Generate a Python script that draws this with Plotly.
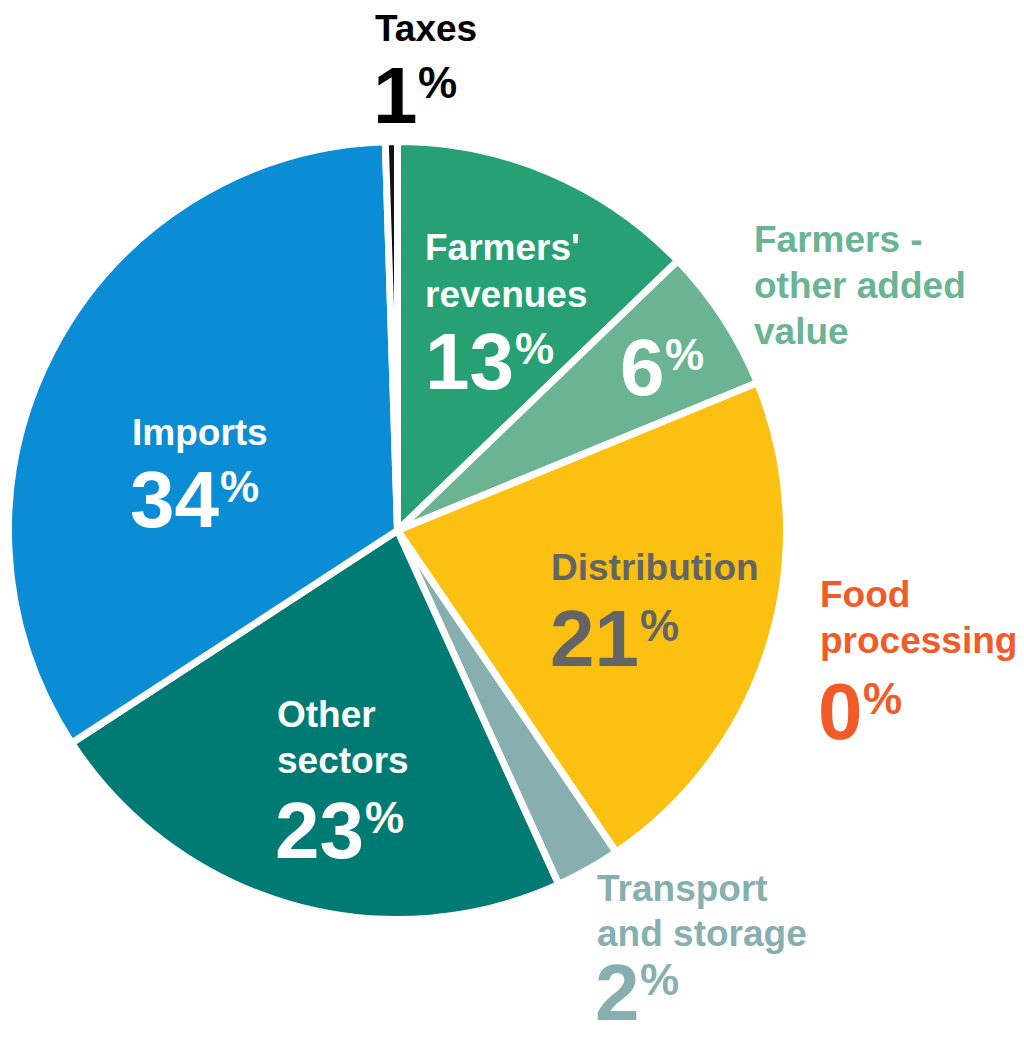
import plotly.graph_objects as go

# page body has an 8px margin; positions below are in screenshot pixels
OFF = 8
W, H = 1024 - OFF, 1040 - OFF

# ---- data ----
categories = ["Farmers' revenues", "Farmers - other added value", "Distribution",
              "Food processing", "Transport and storage", "Other sectors", "Imports", "Taxes"]
shares = [12.8, 6.0, 21.7, 0.0, 2.7, 22.6, 33.7, 0.5]
pct_labels = ["13", "6", "21", "0", "2", "23", "34", "1"]
name_lines = [["Farmers'", "revenues"], ["Farmers -", "other added", "value"], ["Distribution"],
              ["Food", "processing"], ["Transport", "and storage"], ["Other", "sectors"],
              ["Imports"], ["Taxes"]]

# ---- styles ----
slice_colors = ["#27A174", "#6BB493", "#FBC012", "#F15A29", "#88AFAF", "#007B74", "#0A8DD5", "#111111"]
name_colors = ["#FFFFFF", "#6BB493", "#636466", "#F15A29", "#88AFAF", "#FFFFFF", "#FFFFFF", "#000000"]
num_colors = ["#FFFFFF", "#FFFFFF", "#636466", "#F15A29", "#88AFAF", "#FFFFFF", "#FFFFFF", "#000000"]
FONT = "Liberation Sans, Arial, sans-serif"

# label layout (screenshot pixel positions): left x, name line centres, number centre
label_pos = [
    dict(x=423, lines=[248, 294], nx=423, ny=362),
    dict(x=752, lines=[240, 285, 331], nx=618, ny=368),
    dict(x=549, lines=[567], nx=548, ny=638),
    dict(x=818, lines=[594, 640], nx=816, ny=711),
    dict(x=595, lines=[888, 933], nx=593, ny=992),
    dict(x=275, lines=[714, 760], nx=273, ny=830),
    dict(x=130, lines=[432], nx=128, ny=500),
    dict(x=373, lines=[28], nx=371, ny=95),
]
NAME_SIZE = 37
NUM_SIZE = 80
PCT_SIZE = 44

cx, cy, r = 397.5, 530.5, 389

fig = go.Figure(go.Pie(
    labels=categories, values=shares, sort=False, direction="clockwise", rotation=0,
    marker=dict(colors=slice_colors, line=dict(color="white", width=7)),
    textinfo="none", hoverinfo="label+percent", showlegend=False,
    domain=dict(x=[max(0, (cx - r - OFF) / W), (cx + r - OFF) / W],
                y=[1 - (cy + r - OFF) / H, 1 - (cy - r - OFF) / H]),
))


def ann(text, x, y, size, color, xanchor="left"):
    return dict(text=text, x=(x - OFF) / W, y=1 - (y - OFF) / H, xref="paper", yref="paper",
                xanchor=xanchor, yanchor="middle", showarrow=False,
                font=dict(family=FONT, size=size, color=color, weight="bold"))


annotations = []
for i, pos in enumerate(label_pos):
    for line, ly in zip(name_lines[i], pos["lines"]):
        annotations.append(ann(line, pos["x"], ly, NAME_SIZE, name_colors[i]))
    num = pct_labels[i]
    annotations.append(ann(num, pos["nx"], pos["ny"], NUM_SIZE, num_colors[i]))
    px = pos["nx"] + len(num) * 0.556 * NUM_SIZE + 1
    annotations.append(ann("%", px, pos["ny"] - 13, PCT_SIZE, num_colors[i]))

fig.update_layout(width=W, height=H, margin=dict(l=0, r=0, t=0, b=0),
                  paper_bgcolor="white", plot_bgcolor="white", annotations=annotations)

fig.write_html("out.html")
